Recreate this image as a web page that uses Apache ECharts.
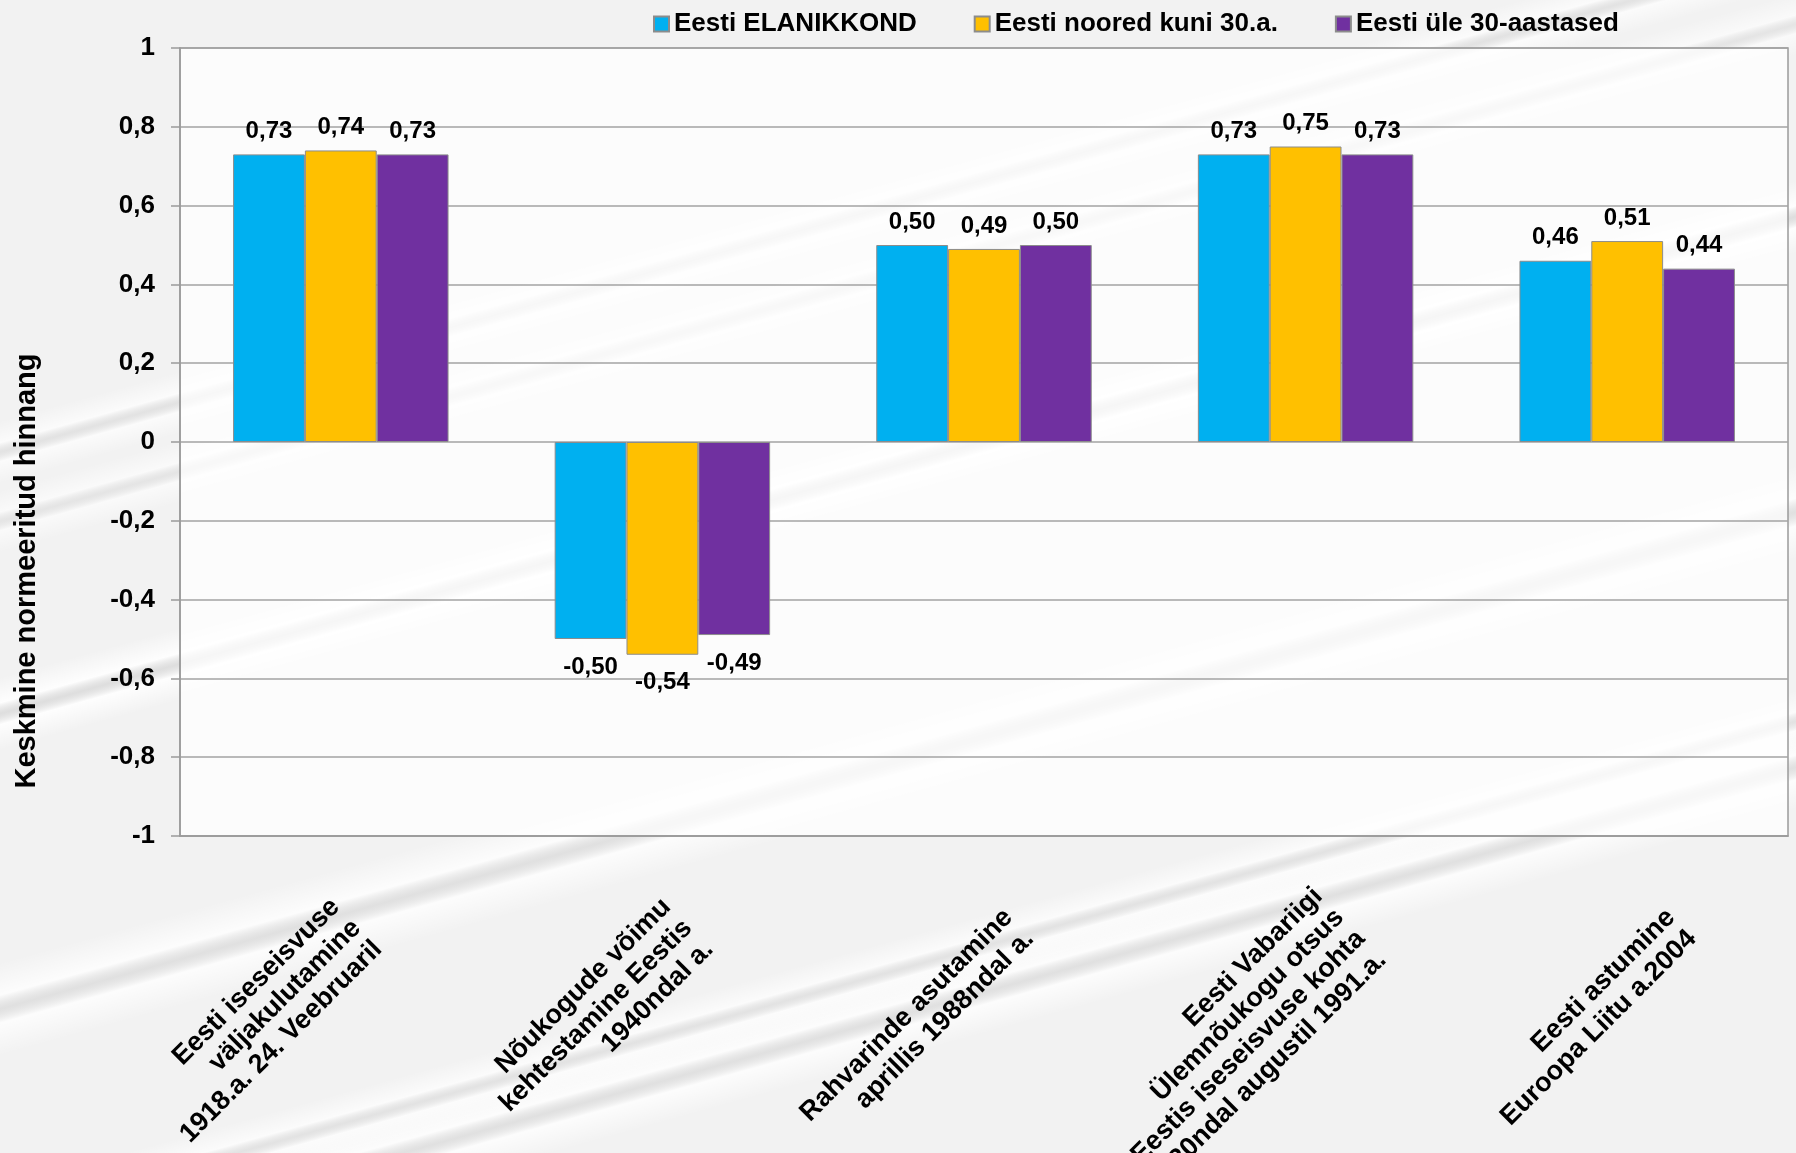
<!DOCTYPE html>
<html>
<head>
<meta charset="utf-8">
<script src="https://cdn.jsdelivr.net/npm/echarts@6/dist/echarts.min.js"></script>
<style>
html,body{margin:0;padding:0;background:#f2f2f2;}
#c{width:1796px;height:1153px;}
</style>
</head>
<body>
<div id="c"></div>
<script>
const categories = [
  "Eesti iseseisvuse\nväljakulutamine\n1918.a. 24. Veebruaril",
  "Nõukogude võimu\nkehtestamine Eestis\n1940ndal a.",
  "Rahvarinde asutamine\naprillis 1988ndal a.",
  "Eesti Vabariigi\nÜlemnõukogu otsus\nEestis iseseisvuse kohta\n20ndal augustil 1991.a.",
  "Eesti astumine\nEuroopa Liitu a.2004"
];
const seriesNames = ["Eesti ELANIKKOND", "Eesti noored kuni 30.a.", "Eesti üle 30-aastased"];
const elanikkond = [0.73, -0.50, 0.50, 0.73, 0.46];
const noored = [0.74, -0.54, 0.49, 0.75, 0.51];
const yle30 = [0.73, -0.49, 0.50, 0.73, 0.44];
const yAxisTitle = "Keskmine normeeritud hinnang";

const FONT = "'Liberation Sans', Arial, sans-serif";
const colors = ['#00B0F0', '#FFC000', '#7030A0'];

const chart = echarts.init(document.getElementById('c'), null, {renderer: 'canvas'});

function streak(cx, cy, h, rot, a) {
  return {
    type: 'rect', z: -10, silent: true,
    x: cx, y: cy, rotation: rot,
    shape: {x: -1400, y: -h / 2, width: 2800, height: h},
    style: {
      fill: new echarts.graphic.LinearGradient(0, 0, 0, 1, [
        {offset: 0, color: 'rgba(255,255,255,0)'},
        {offset: 0.35, color: 'rgba(255,255,255,' + a + ')'},
        {offset: 0.5, color: 'rgba(205,205,205,' + (a * 0.6) + ')'},
        {offset: 0.65, color: 'rgba(255,255,255,' + a + ')'},
        {offset: 1, color: 'rgba(255,255,255,0)'}
      ])
    }
  };
}

const labelFmt = p => p.value.toFixed(2).replace('.', ',');

function barSeries(name, values, color) {
  return {
    name: name,
    type: 'bar',
    xAxisIndex: 0,
    yAxisIndex: 0,
    data: values.map(v => v < 0 ? {value: v, label: {distance: 16}} : v),
    barGap: '0%',
    barCategoryGap: '33%',
    itemStyle: {color: color, borderColor: '#8c8c8c', borderWidth: 1},
    label: {
      show: true,
      position: 'outside',
      distance: 11,
      formatter: labelFmt,
      fontFamily: FONT,
      fontWeight: 'bold',
      fontSize: 24,
      color: '#000'
    }
  };
}

const option = {
  backgroundColor: '#f2f2f2',
  animation: false,
  color: colors,
  legend: {
    left: 648,
    top: 6,
    itemWidth: 15,
    itemHeight: 15,
    itemGap: 57,
    icon: 'rect',
    textStyle: {fontFamily: FONT, fontWeight: 'bold', fontSize: 26, color: '#000'},
    data: seriesNames
  },
  grid: [
    {
      left: 180, right: 8, top: 48, bottom: 317,
      outerBoundsMode: 'none',
      containLabel: false,
      show: true,
      backgroundColor: 'rgba(255,255,255,0.72)',
      borderColor: '#9a9a9a',
      borderWidth: 1.5
    },
    {
      // layout band for the rotated category captions (spaced slightly wider, as in the source)
      left: 191, right: -51, top: 48, bottom: 317,
      outerBoundsMode: 'none',
      containLabel: false,
      show: false
    }
  ],
  xAxis: [
    {
      type: 'category',
      gridIndex: 0,
      data: categories,
      axisLine: {onZero: false, lineStyle: {color: '#9a9a9a', width: 1.5}},
      axisTick: {show: false},
      axisLabel: {show: false}
    },
    {
      type: 'category',
      gridIndex: 1,
      data: categories,
      axisLine: {show: false},
      axisTick: {show: false},
      splitLine: {show: false},
      axisLabel: {
        interval: 0,
        rotate: 45,
        margin: 88,
        align: 'right',
        verticalAlign: 'middle',
        fontFamily: FONT,
        fontWeight: 'bold',
        fontSize: 27,
        lineHeight: 30,
        color: '#000'
      }
    }
  ],
  yAxis: [
    {
      type: 'value',
      gridIndex: 0,
      min: -1, max: 1, interval: 0.2,
      axisLine: {show: true, lineStyle: {color: '#9a9a9a', width: 1.5}},
      axisTick: {show: true, length: 9, lineStyle: {color: '#9a9a9a', width: 1.5}},
      splitLine: {lineStyle: {color: '#a3a3a3', width: 1.5}},
      axisLabel: {
        margin: 25,
        fontFamily: FONT,
        fontWeight: 'bold',
        fontSize: 26,
        color: '#000',
        formatter: v => String(Math.round(v * 10) / 10).replace('.', ',')
      }
    },
    {
      type: 'value',
      gridIndex: 1,
      min: -1, max: 1,
      show: false
    }
  ],
  graphic: [
    streak(700, 520, 70, 0.27, 0.9),
    streak(900, 760, 90, 0.27, 0.8),
    streak(800, 300, 60, 0.27, 0.6),
    streak(1100, 960, 80, 0.27, 0.8),
    streak(500, 1080, 60, 0.27, 0.7),
    streak(1200, 120, 60, 0.27, 0.7),
    {
      type: 'text', z: 10,
      x: 27, y: 571, rotation: Math.PI / 2,
      style: {
        text: yAxisTitle,
        fontFamily: FONT, fontWeight: 'bold', fontSize: 29,
        fill: '#000', align: 'center', verticalAlign: 'middle'
      }
    }
  ],
  series: [
    barSeries(seriesNames[0], elanikkond, colors[0]),
    barSeries(seriesNames[1], noored, colors[1]),
    barSeries(seriesNames[2], yle30, colors[2])
  ]
};
chart.setOption(option);
</script>
</body>
</html>
